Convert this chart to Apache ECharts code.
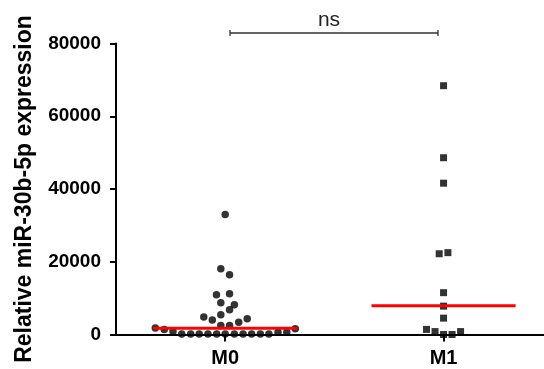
<!DOCTYPE html>
<html>
<head>
<meta charset="utf-8">
<script src="https://cdn.jsdelivr.net/npm/echarts@6/dist/echarts.min.js"></script>
<style>html,body{margin:0;padding:0;background:#fff}#c{width:544px;height:369px}</style>
</head>
<body>
<div id="c"></div>
<script>
// Groups (categories) placed at x = 0 and 1 on a value axis
const groups = ['M0', 'M1'];
const yTicks = [0, 20000, 40000, 60000, 80000];

// M0 values and horizontal scatter offsets
const m0Values = [33000, 18100, 16400, 10900, 11200, 8700, 8200, 6800, 4800, 4000, 5400, 4300, 3400, 2500, 2500,
  1800, 1400, 1600, 800, 600, 600,
  150, 150, 150, 150, 150, 150, 150, 150, 150, 150, 150];
const m0Offsets = [0.0, -0.02, 0.02, -0.04, 0.02, -0.02, 0.042, 0.02, -0.098, -0.059, -0.02, 0.101, 0.062, -0.02, 0.02,
  -0.32, -0.279, 0.321, -0.239, 0.242, 0.282,
  -0.199, -0.158, -0.119, -0.079, -0.039, 0.0, 0.042, 0.082, 0.121, 0.161, 0.2];

// M1 values and offsets
const m1Values = [68400, 48600, 41600, 22200, 22500, 11500, 7800, 4500, 1400, 800, 0, 0, 800];
const m1Offsets = [0, 0, 0, -0.02, 0.02, 0, 0, 0, -0.078, -0.039, 0, 0.039, 0.078];

// Median lines
const medians = [1700, 7900];
const medianHalfWidth = 0.33;

const font = "'Liberation Sans', Arial, Helvetica, sans-serif";

const m0Data = m0Values.map((v, i) => [0 + m0Offsets[i], v]);
const m1Data = m1Values.map((v, i) => [1 + m1Offsets[i], v]);

const medianSeries = medians.map((m, gi) => ({
  type: 'line',
  data: [[gi - medianHalfWidth, m], [gi + medianHalfWidth, m]],
  symbol: 'none',
  lineStyle: { color: '#ff0000', width: 3 },
  z: 5,
  silent: true
}));

const chart = echarts.init(document.getElementById('c'), null, { renderer: 'canvas' });
chart.setOption({
  animation: false,
  backgroundColor: '#fff',
  grid: { left: 116, right: 0, top: 43.5, bottom: 34.5, outerBoundsMode: 'none' },
  xAxis: {
    type: 'value',
    min: -0.5,
    max: 1.46,
    splitLine: { show: false },
    axisLine: { show: true, onZero: false, lineStyle: { color: '#000', width: 2 } },
    axisTick: { show: true, customValues: [0, 1], length: 7, lineStyle: { color: '#000', width: 2 } },
    axisLabel: {
      customValues: [0, 1],
      formatter: v => groups[Math.round(v)],
      color: '#000', fontFamily: font, fontWeight: 'bold', fontSize: 20, margin: 14
    }
  },
  yAxis: {
    type: 'value',
    min: yTicks[0],
    max: yTicks[yTicks.length - 1],
    interval: yTicks[1] - yTicks[0],
    name: 'Relative miR-30b-5p expression',
    nameLocation: 'middle',
    nameGap: 80,
    nameTextStyle: { color: '#000', fontFamily: font, fontWeight: 'bold', fontSize: 23 },
    splitLine: { show: false },
    axisLine: { show: true, onZero: false, lineStyle: { color: '#000', width: 2 } },
    axisTick: { show: true, length: 6, lineStyle: { color: '#000', width: 2 } },
    axisLabel: { color: '#000', fontFamily: font, fontWeight: 'bold', fontSize: 19, margin: 15, formatter: v => String(v) }
  },
  series: [
    { type: 'scatter', data: m0Data, symbol: 'circle', symbolSize: 7.5, itemStyle: { color: '#000' }, z: 3 },
    { type: 'scatter', data: m1Data, symbol: 'rect', symbolSize: 7, itemStyle: { color: '#000' }, z: 3 },
    ...medianSeries
  ],
  graphic: [
    { type: 'line', shape: { x1: 230, y1: 33, x2: 438, y2: 33 }, style: { stroke: '#333', lineWidth: 1.3 } },
    { type: 'line', shape: { x1: 230, y1: 30, x2: 230, y2: 36 }, style: { stroke: '#333', lineWidth: 1.3 } },
    { type: 'line', shape: { x1: 438, y1: 30, x2: 438, y2: 36 }, style: { stroke: '#333', lineWidth: 1.3 } },
    { type: 'text', x: 329, y: 20, style: { text: 'ns', fill: '#222', font: '21px ' + font, textAlign: 'center', textVerticalAlign: 'middle' } }
  ]
});
</script>
</body>
</html>
